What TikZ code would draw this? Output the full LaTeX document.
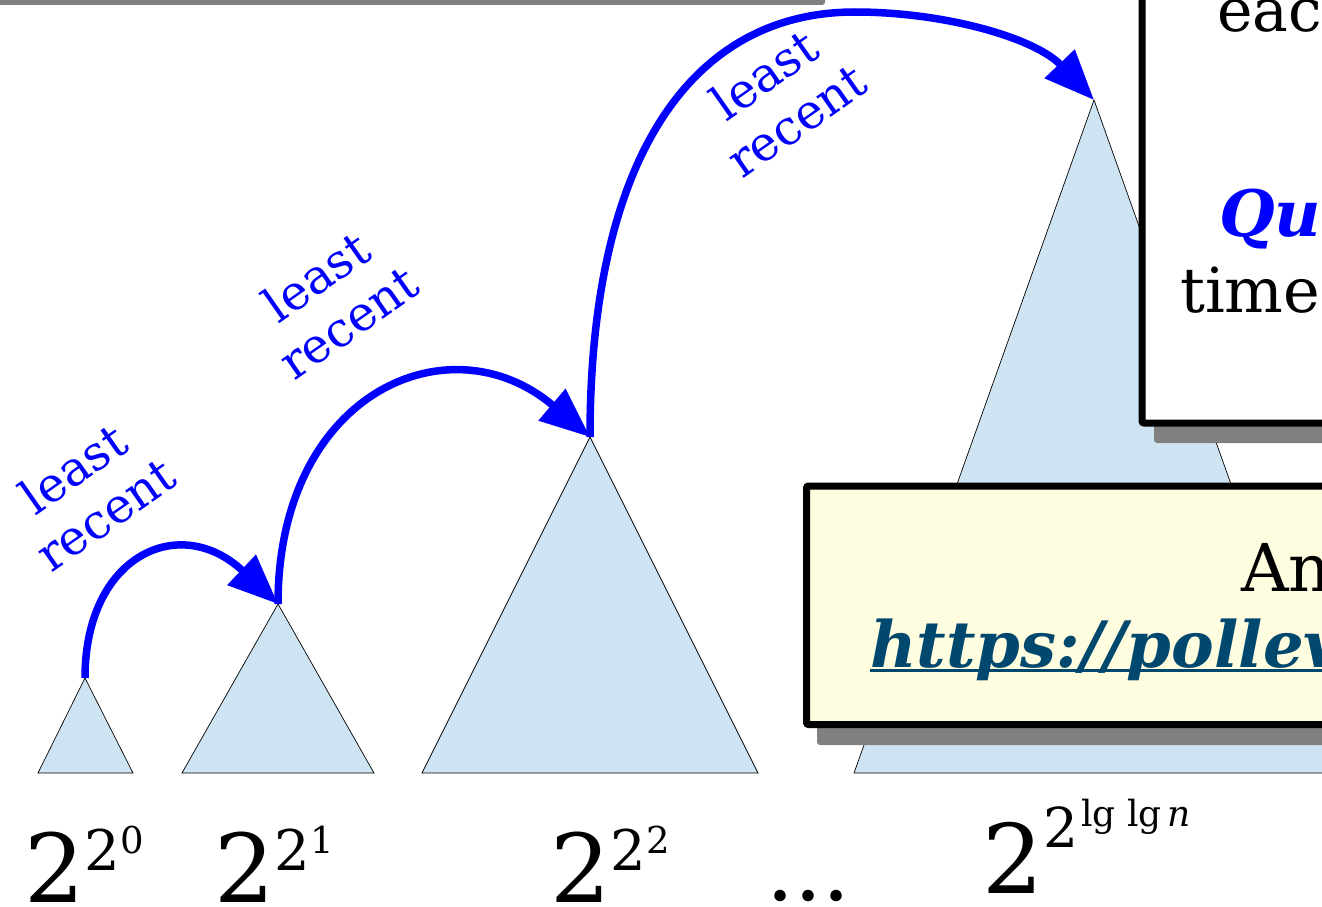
\documentclass[tikz,border=0pt]{standalone}
\usepackage{fontspec}
\setmainfont{DejaVu Serif}
\usetikzlibrary{arrows.meta}
\definecolor{tri}{RGB}{207,228,242}
\definecolor{urlc}{RGB}{0,72,110}
\definecolor{shad}{RGB}{128,128,128}
\definecolor{ylw}{RGB}{255,253,224}
\newcommand\fsz[1]{\fontsize{#1}{#1}\selectfont}
\tikzset{
  tribox/.style={fill=tri, draw=black, line width=0.7pt},
  lrarrow/.style={draw=blue, line width=7.5pt, -{Triangle[length=50pt,width=40pt]}},
  lrlabel/.style={text=blue, rotate=35, align=center, inner sep=0pt, font=\fontsize{48}{56}\selectfont},
  shadowbox/.style={fill=shad, rounded corners=3pt},
  mainbox/.style={draw=black, line width=7pt, rounded corners=2pt},
  txt/.style={anchor=base west, inner sep=0pt},
}
\begin{document}
\begin{tikzpicture}[x=1pt,y=-1pt]
\useasboundingbox (0,0) rectangle (1322,907);
\begin{scope}
\clip (0,0) rectangle (1322,907);
% top shadow bar
\fill[shadowbox] (-20,-60) rectangle (825,5);
% triangles
\coordinate (a1) at (85,678);
\coordinate (a2) at (278,604);
\coordinate (a3) at (590,437);
\coordinate (a4) at (1094,100);
\filldraw[tribox] (38,773) -- (a1) -- (133,773) -- cycle;
\filldraw[tribox] (182,773) -- (a2) -- (374,773) -- cycle;
\filldraw[tribox] (422,773) -- (a3) -- (758,773) -- cycle;
\filldraw[tribox] (854,773) -- (a4) -- (1334,773) -- cycle;
% arrows
\coordinate (top3) at (855,12);
\draw[lrarrow] (a1) .. controls (85,555) and (180,512) .. (a2);
\draw[lrarrow] (a2) .. controls (278,392) and (450,318) .. (a3);
\draw[lrarrow] (a3) .. controls (590,160) and (690,12) .. (top3) .. controls (945,12) and (1035,38) .. (a4);
% labels
\node[lrlabel] (l1) at (89,491) {least\\recent};
\node[lrlabel] (l2) at (332,299) {least\\recent};
\node[lrlabel] (l3) at (780,97) {least\\recent};
% right box
\fill[shadowbox] (1154,-60) rectangle (1440,443);
\filldraw[mainbox, fill=white] (1142,-80) rectangle (1430,423);
\node[txt, font=\fsz{60}] (each) at (1217,32) {eac};
\node[txt, font=\fsz{64}\bfseries\itshape, text=blue] (qu) at (1219,236) {Qu};
\node[txt, font=\fsz{62}] (time) at (1180,312) {time};
% yellow box
\fill[shadowbox] (817,500) rectangle (1440,745);
\filldraw[mainbox, fill=ylw] (806.5,486) rectangle (1430,724.5);
\node[txt, font=\fsz{66}] (an) at (1241,591) {An};
\node[txt, font=\fsz{64}\bfseries\itshape, text=urlc] (url) at (870,667) {https://pollev};
\draw[urlc, line width=3.5pt] ([yshift=-3.5pt]url.base west) -- ([yshift=-3.5pt]url.base east);
% size labels
\node[txt] (e0) at (24,902) {\fsz{95}2\raisebox{32pt}{\fsz{56}2}\raisebox{49pt}{\fsz{37}0}};
\node[txt] (e1) at (214,902) {\fsz{95}2\raisebox{32pt}{\fsz{56}2}\raisebox{49pt}{\fsz{37}1}};
\node[txt] (e2) at (550,902) {\fsz{95}2\raisebox{32pt}{\fsz{56}2}\raisebox{49pt}{\fsz{37}2}};
\node[txt, font=\fsz{88}] (dots) at (766,900) {...};
\node[txt] (en) at (982,893) {\fsz{96}2\raisebox{46pt}{\fsz{55}2}\hspace{3pt}\raisebox{67pt}{\fsz{36}lg lg\,\itshape n}};
\end{scope}
\end{tikzpicture}
\end{document}
